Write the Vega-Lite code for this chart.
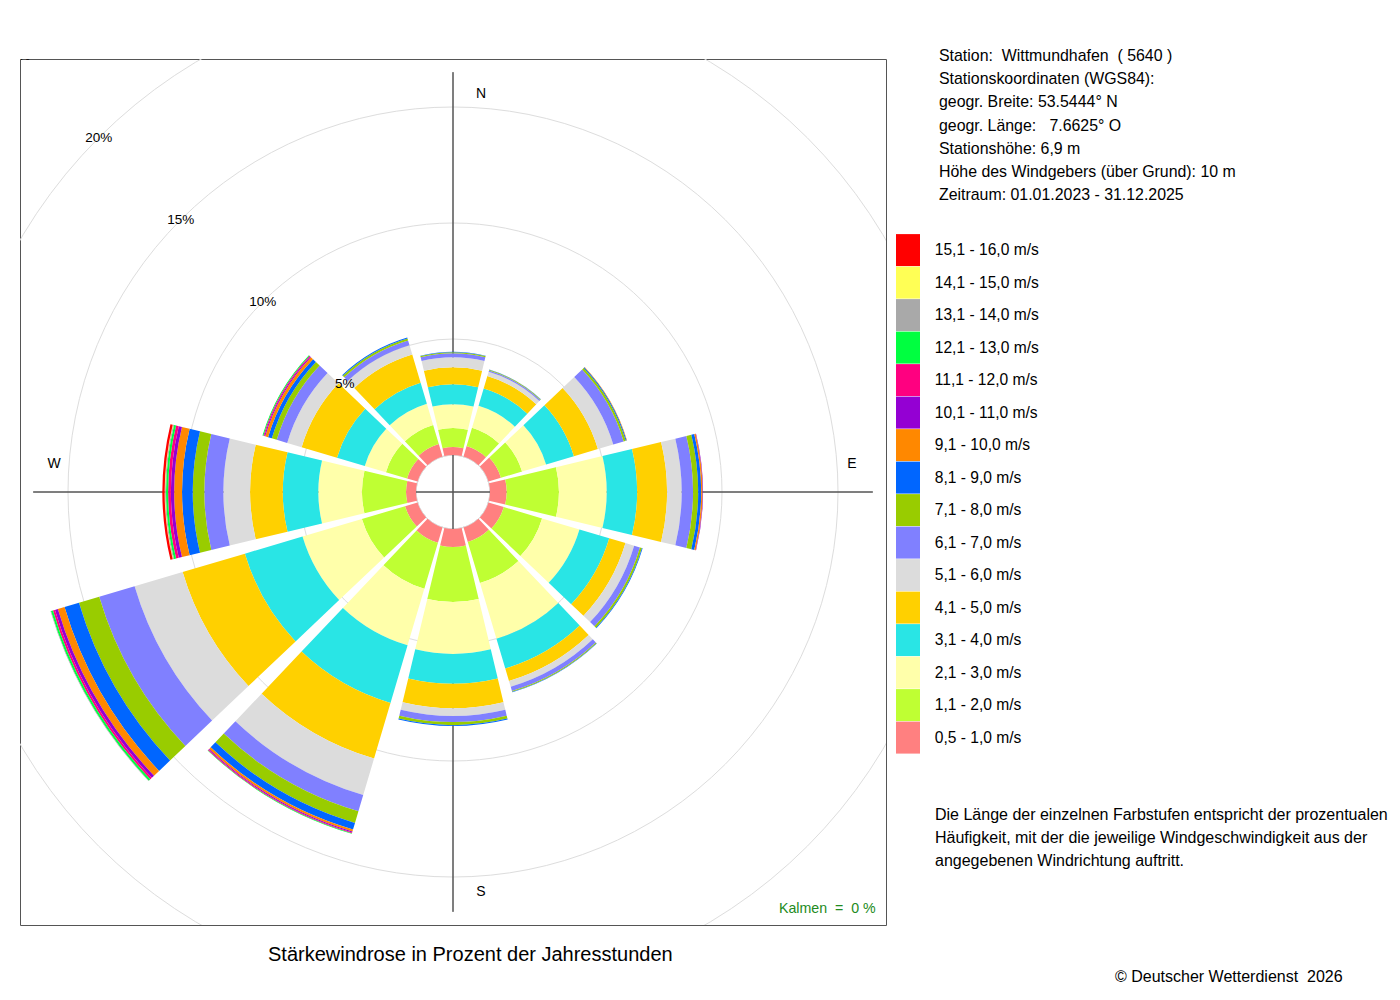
{
  "$schema": "https://vega.github.io/schema/vega-lite/v6.json",
  "width": 866,
  "height": 866,
  "autosize": {"type": "none"},
  "padding": {"left": 20, "top": 59, "right": 514, "bottom": 75},
  "background": "#ffffff",
  "view": {"stroke": "#555555", "strokeWidth": 1},
  "config": {
    "view": {"stroke": "#555555", "strokeWidth": 1},
    "font": "Liberation Sans",
    "text": {"font": "Liberation Sans", "color": "#000000"},
    "legend": {
      "titleFont": "Liberation Sans",
      "labelFont": "Liberation Sans",
      "titleFontWeight": "normal",
      "titleColor": "#000000",
      "labelColor": "#000000",
      "titleLimit": 2000,
      "labelLimit": 500,
      "padding": 0,
      "orient": "none"
    }
  },
  "datasets": {
    "classes": [
      {"c": "c1", "cls": "0,5 - 1,0 m/s", "lo": 0.5},
      {"c": "c2", "cls": "1,1 - 2,0 m/s", "lo": 1.1},
      {"c": "c3", "cls": "2,1 - 3,0 m/s", "lo": 2.1},
      {"c": "c4", "cls": "3,1 - 4,0 m/s", "lo": 3.1},
      {"c": "c5", "cls": "4,1 - 5,0 m/s", "lo": 4.1},
      {"c": "c6", "cls": "5,1 - 6,0 m/s", "lo": 5.1},
      {"c": "c7", "cls": "6,1 - 7,0 m/s", "lo": 6.1},
      {"c": "c8", "cls": "7,1 - 8,0 m/s", "lo": 7.1},
      {"c": "c9", "cls": "8,1 - 9,0 m/s", "lo": 8.1},
      {"c": "c10", "cls": "9,1 - 10,0 m/s", "lo": 9.1},
      {"c": "c11", "cls": "10,1 - 11,0 m/s", "lo": 10.1},
      {"c": "c12", "cls": "11,1 - 12,0 m/s", "lo": 11.1},
      {"c": "c13", "cls": "12,1 - 13,0 m/s", "lo": 12.1},
      {"c": "c14", "cls": "13,1 - 14,0 m/s", "lo": 13.1},
      {"c": "c15", "cls": "14,1 - 15,0 m/s", "lo": 14.1},
      {"c": "c16", "cls": "15,1 - 16,0 m/s", "lo": 15.1}
    ],
    "rose": [
      {"dir": 0, "c1": 0.34, "c2": 0.82, "c3": 1.03, "c4": 0.86, "c5": 0.73, "c6": 0.43, "c7": 0.17, "c8": 0.05, "c9": 0.02, "c10": 0, "c11": 0, "c12": 0, "c13": 0, "c14": 0, "c15": 0, "c16": 0},
      {"dir": 30, "c1": 0.47, "c2": 0.82, "c3": 0.99, "c4": 0.78, "c5": 0.56, "c6": 0.19, "c7": 0.06, "c8": 0.03, "c9": 0.01, "c10": 0, "c11": 0, "c12": 0, "c13": 0, "c14": 0, "c15": 0, "c16": 0},
      {"dir": 60, "c1": 0.56, "c2": 0.95, "c3": 1.08, "c4": 1.25, "c5": 1.08, "c6": 0.69, "c7": 0.47, "c8": 0.09, "c9": 0.04, "c10": 0.02, "c11": 0, "c12": 0, "c13": 0, "c14": 0, "c15": 0, "c16": 0},
      {"dir": 90, "c1": 0.72, "c2": 2.25, "c3": 2.06, "c4": 1.31, "c5": 1.29, "c6": 0.63, "c7": 0.49, "c8": 0.22, "c9": 0.13, "c10": 0.06, "c11": 0.02, "c12": 0, "c13": 0, "c14": 0, "c15": 0, "c16": 0},
      {"dir": 120, "c1": 0.69, "c2": 1.72, "c3": 1.68, "c4": 1.34, "c5": 0.73, "c6": 0.39, "c7": 0.26, "c8": 0.09, "c9": 0.03, "c10": 0, "c11": 0, "c12": 0, "c13": 0, "c14": 0, "c15": 0, "c16": 0},
      {"dir": 150, "c1": 0.65, "c2": 1.85, "c3": 2.5, "c4": 1.34, "c5": 0.56, "c6": 0.26, "c7": 0.19, "c8": 0.04, "c9": 0.02, "c10": 0, "c11": 0, "c12": 0, "c13": 0, "c14": 0, "c15": 0, "c16": 0},
      {"dir": 180, "c1": 0.78, "c2": 2.37, "c3": 2.23, "c4": 1.29, "c5": 1.05, "c6": 0.34, "c7": 0.26, "c8": 0.13, "c9": 0.04, "c10": 0, "c11": 0, "c12": 0, "c13": 0, "c14": 0, "c15": 0, "c16": 0},
      {"dir": 210, "c1": 0.69, "c2": 2.07, "c3": 2.54, "c4": 2.59, "c5": 2.5, "c6": 1.64, "c7": 0.73, "c8": 0.52, "c9": 0.3, "c10": 0.09, "c11": 0.04, "c12": 0.04, "c13": 0.02, "c14": 0, "c15": 0, "c16": 0},
      {"dir": 240, "c1": 0.56, "c2": 1.94, "c3": 2.67, "c4": 2.59, "c5": 2.8, "c6": 2.16, "c7": 1.59, "c8": 0.91, "c9": 0.65, "c10": 0.3, "c11": 0.13, "c12": 0.09, "c13": 0.09, "c14": 0.02, "c15": 0, "c16": 0},
      {"dir": 270, "c1": 0.43, "c2": 1.9, "c3": 1.88, "c4": 1.53, "c5": 1.41, "c6": 1.15, "c7": 0.82, "c8": 0.5, "c9": 0.46, "c10": 0.34, "c11": 0.14, "c12": 0.12, "c13": 0.09, "c14": 0.04, "c15": 0.02, "c16": 0.1},
      {"dir": 300, "c1": 0.47, "c2": 0.95, "c3": 0.95, "c4": 1.25, "c5": 1.59, "c6": 0.65, "c7": 0.47, "c8": 0.22, "c9": 0.17, "c10": 0.13, "c11": 0.04, "c12": 0.04, "c13": 0.04, "c14": 0, "c15": 0, "c16": 0},
      {"dir": 330, "c1": 0.56, "c2": 0.86, "c3": 0.95, "c4": 0.95, "c5": 1.27, "c6": 0.41, "c7": 0.22, "c8": 0.09, "c9": 0.04, "c10": 0, "c11": 0, "c12": 0, "c13": 0, "c14": 0, "c15": 0, "c16": 0}
    ]
  },
  "layer": [
    {
      "data": {"values": [{"ring": 5}, {"ring": 10}, {"ring": 15}, {"ring": 20}, {"ring": 25}]},
      "mark": {"type": "arc", "filled": false, "stroke": "#dddddd", "strokeWidth": 1, "clip": true},
      "encoding": {
        "theta": {"value": 0},
        "theta2": {"value": 6.2832},
        "radius": {"field": "ring", "type": "quantitative", "stack": null,
          "scale": {"type": "linear", "domain": [0, 20], "range": [37, 501], "zero": true, "nice": false}}
      }
    },
    {
      "data": {"values": [{"d": 0}, {"d": 90}, {"d": 180}, {"d": 270}]},
      "mark": {"type": "arc", "filled": false, "stroke": "#555555", "strokeWidth": 1},
      "encoding": {
        "theta": {"field": "d", "type": "quantitative", "stack": null,
          "scale": {"type": "linear", "domain": [0, 360], "range": [0, 6.283185307], "zero": true, "nice": false}},
        "theta2": {"field": "d"},
        "radius": {"datum": 16.5, "type": "quantitative",
          "scale": {"type": "linear", "domain": [0, 20], "range": [37, 501], "zero": true, "nice": false}},
        "radius2": {"value": 0}
      }
    },
    {
      "data": {"name": "rose"},
      "transform": [
        {"fold": ["c1", "c2", "c3", "c4", "c5", "c6", "c7", "c8", "c9", "c10", "c11", "c12", "c13", "c14", "c15", "c16"], "as": ["c", "pct"]},
        {"lookup": "c", "from": {"data": {"name": "classes"}, "key": "c", "fields": ["cls", "lo"]}}
      ],
      "mark": {"type": "arc"},
      "encoding": {
        "theta": {"field": "dir", "type": "ordinal",
          "scale": {"type": "band", "domain": [0, 30, 60, 90, 120, 150, 180, 210, 240, 270, 300, 330],
            "range": [-0.2617994, 6.0213859], "paddingInner": 0.1, "paddingOuter": 0.05}},
        "radius": {"field": "pct", "type": "quantitative", "stack": "zero",
          "scale": {"type": "linear", "domain": [0, 20], "range": [37, 501], "zero": true, "nice": false}},
        "order": {"field": "lo", "type": "quantitative", "sort": "ascending"},
        "color": {"field": "cls", "type": "nominal",
          "scale": {
            "domain": ["15,1 - 16,0 m/s", "14,1 - 15,0 m/s", "13,1 - 14,0 m/s", "12,1 - 13,0 m/s", "11,1 - 12,0 m/s", "10,1 - 11,0 m/s", "9,1 - 10,0 m/s", "8,1 - 9,0 m/s", "7,1 - 8,0 m/s", "6,1 - 7,0 m/s", "5,1 - 6,0 m/s", "4,1 - 5,0 m/s", "3,1 - 4,0 m/s", "2,1 - 3,0 m/s", "1,1 - 2,0 m/s", "0,5 - 1,0 m/s"],
            "range": ["#ff0000", "#ffff55", "#a9a9a9", "#00ff40", "#ff0080", "#9400d3", "#ff8800", "#0066ff", "#99cc00", "#8080ff", "#dcdcdc", "#ffd000", "#29e5e5", "#ffffaa", "#bfff33", "#ff8080"]
          },
          "legend": {
            "orient": "none",
            "legendX": 919,
            "legendY": -11,
            "title": ["Station:\u00a0 Wittmundhafen\u00a0 ( 5640 )", "Stationskoordinaten (WGS84):", "geogr. Breite: 53.5444° N", "geogr. Länge:\u00a0\u00a0 7.6625° O", "Stationshöhe: 6,9 m", "Höhe des Windgebers (über Grund): 10 m", "Zeitraum: 01.01.2023 - 31.12.2025"],
            "titleFontSize": 15.9,
            "titleLineHeight": 23.2,
            "titlePadding": 31,
            "titleAnchor": "start",
            "titleAlign": "left",
            "titleBaseline": "top",
            "symbolType": "M-0.75,-1H0.75V1H-0.75Z",
            "symbolSize": 1024,
            "symbolStrokeWidth": 0,
            "symbolOffset": -47,
            "labelOffset": 10.75,
            "labelFontSize": 15.6,
            "rowPadding": 0.5,
            "padding": 0
          }
        }
      }
    },
    {
      "data": {"values": [{"d": 0, "lab": "N"}, {"d": 180, "lab": "S"}]},
      "mark": {"type": "text", "fontSize": 14, "dx": 28, "dy": 1, "align": "center", "baseline": "middle"},
      "encoding": {
        "theta": {"field": "d", "type": "quantitative", "stack": null,
          "scale": {"type": "linear", "domain": [0, 360], "range": [0, 6.283185307], "zero": true, "nice": false}},
        "radius": {"datum": 15.6, "type": "quantitative",
          "scale": {"type": "linear", "domain": [0, 20], "range": [37, 501], "zero": true, "nice": false}},
        "text": {"field": "lab"}
      }
    },
    {
      "data": {"values": [{"d": 90, "lab": "E"}, {"d": 270, "lab": "W"}]},
      "mark": {"type": "text", "fontSize": 14, "dy": -28, "align": "center", "baseline": "middle"},
      "encoding": {
        "theta": {"field": "d", "type": "quantitative", "stack": null,
          "scale": {"type": "linear", "domain": [0, 360], "range": [0, 6.283185307], "zero": true, "nice": false}},
        "radius": {"datum": 15.6, "type": "quantitative",
          "scale": {"type": "linear", "domain": [0, 20], "range": [37, 501], "zero": true, "nice": false}},
        "text": {"field": "lab"}
      }
    },
    {
      "data": {"values": [{"ring": 5, "lab": "5%"}, {"ring": 10, "lab": "10%"}, {"ring": 15, "lab": "15%"}, {"ring": 20, "lab": "20%"}, {"ring": 25, "lab": "25%"}]},
      "mark": {"type": "text", "fontSize": 13.5, "align": "center", "baseline": "middle", "clip": true},
      "encoding": {
        "theta": {"datum": 315, "type": "quantitative",
          "scale": {"type": "linear", "domain": [0, 360], "range": [0, 6.283185307], "zero": true, "nice": false}},
        "radius": {"field": "ring", "type": "quantitative", "stack": null,
          "scale": {"type": "linear", "domain": [0, 20], "range": [37, 501], "zero": true, "nice": false}},
        "text": {"field": "lab"}
      }
    },
    {
      "data": {"values": [{"t1": "a", "t2": "b", "t3": "c", "t4": "d"}]},
      "mark": {"type": "point", "opacity": 0},
      "encoding": {
        "size": {"field": "t1", "type": "ordinal",
          "legend": {"orient": "none", "legendX": 915, "legendY": 748,
            "title": ["Die Länge der einzelnen Farbstufen entspricht der prozentualen", "Häufigkeit, mit der die jeweilige Windgeschwindigkeit aus der", "angegebenen Windrichtung auftritt."],
            "titleFontSize": 16, "titleLineHeight": 23, "titleAnchor": "start", "titleAlign": "left", "titleBaseline": "top",
            "symbolOpacity": 0, "labelOpacity": 0, "symbolSize": 4, "labelFontSize": 4}},
        "shape": {"field": "t2", "type": "nominal",
          "legend": {"orient": "none", "legendX": 759, "legendY": 843,
            "title": "Kalmen\u00a0 =\u00a0 0 %", "titleFontSize": 14.2, "titleColor": "#228b22", "titleAnchor": "start", "titleAlign": "left", "titleBaseline": "top",
            "symbolOpacity": 0, "labelOpacity": 0, "symbolSize": 4, "labelFontSize": 4}},
        "strokeWidth": {"field": "t3", "type": "ordinal",
          "legend": {"orient": "none", "legendX": 1095, "legendY": 910,
            "title": "© Deutscher Wetterdienst\u00a0 2026", "titleFontSize": 16, "titleAnchor": "start", "titleAlign": "left", "titleBaseline": "top",
            "symbolOpacity": 0, "labelOpacity": 0, "symbolSize": 4, "labelFontSize": 4}},
        "strokeDash": {"field": "t4", "type": "nominal",
          "legend": {"orient": "none", "legendX": 248, "legendY": 886,
            "title": "Stärkewindrose in Prozent der Jahresstunden", "titleFontSize": 20, "titleAnchor": "start", "titleAlign": "left", "titleBaseline": "top",
            "symbolOpacity": 0, "labelOpacity": 0, "symbolSize": 4, "labelFontSize": 4}}
      }
    }
  ],
  "resolve": {"scale": {"theta": "independent", "radius": "independent"}}
}
